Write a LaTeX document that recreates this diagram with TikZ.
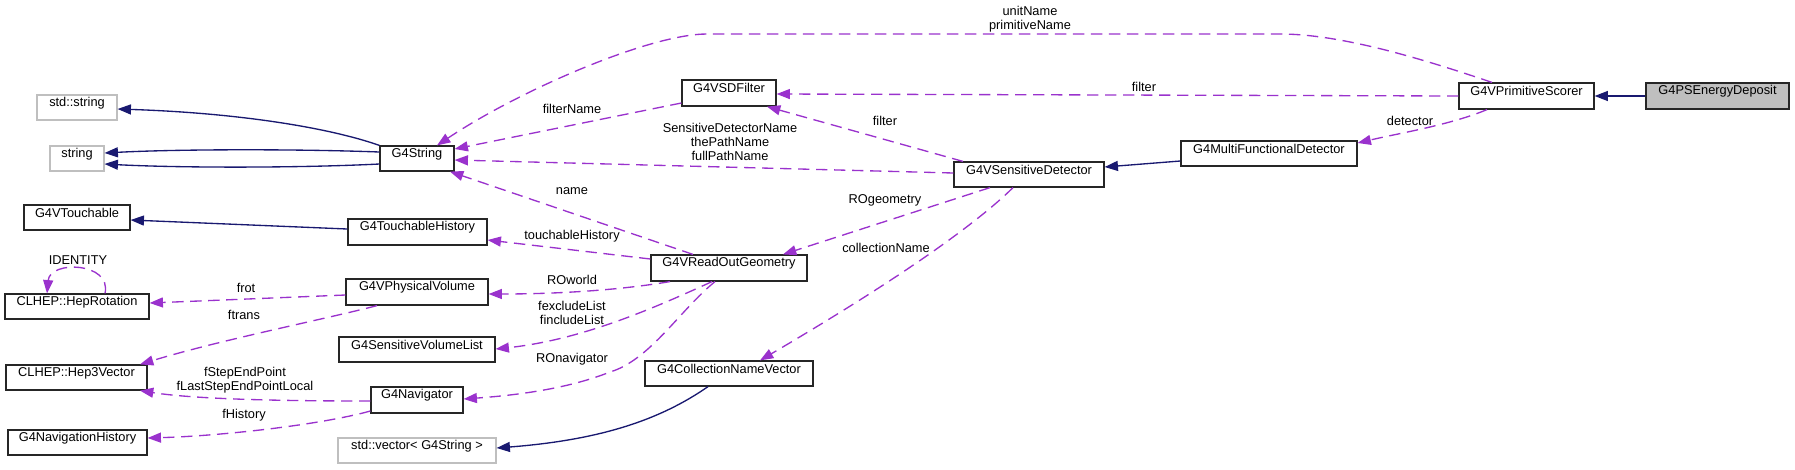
\documentclass[tikz,border=0pt]{standalone}
\usepackage{fontspec}
\setmainfont{Liberation Sans}
\usetikzlibrary{arrows.meta,fit}
\definecolor{navy}{HTML}{191970}
\definecolor{purp}{HTML}{9A32CD}
\definecolor{lgray}{HTML}{BFBFBF}
\begin{document}
\begin{tikzpicture}[x=0.75pt,y=-0.75pt,
  every node/.style={font=\fontsize{9.6}{10.5}\selectfont},
  box/.style={draw=black!85, line width=0.9pt, fill=white, inner sep=0pt},
  gbox/.style={box, draw=lgray},
  hbox/.style={box, fill=lgray},
  lab/.style={inner sep=0pt, align=center},
  inh/.style={draw=navy, line width=1pt, -{Triangle[length=10pt,width=7.5pt]}},
  usesrel/.style={draw=purp, line width=1pt, dash pattern=on 8.5pt off 5pt, -{Triangle[length=10pt,width=7.5pt]}}]
\useasboundingbox (0,0) rectangle (1795,469);

% nodes
\node[hbox, fit={(1646,83)(1789,109)}] (psed) {G4PSEnergyDeposit};
\node[box, fit={(1459,83)(1594,109)}] (vps) {G4VPrimitiveScorer};
\node[box, fit={(1181,141)(1357,166)}] (mfd) {G4MultiFunctionalDetector};
\node[box, fit={(954,162)(1104,187)}] (vsd) {G4VSensitiveDetector};
\node[box, fit={(682,80)(776,106)}] (sdf) {G4VSDFilter};
\node[box, fit={(380,146)(454,171)}] (g4s) {G4String};
\node[gbox, fit={(37,95)(117,120)}] (stds) {std::string};
\node[gbox, fit={(50,146)(104,171)}] (str) {string};
\node[box, fit={(24,205)(130,230)}] (vt) {G4VTouchable};
\node[box, fit={(348,219)(487,245)}] (th) {G4TouchableHistory};
\node[box, fit={(651,255)(807,281)}] (rog) {G4VReadOutGeometry};
\node[box, fit={(5,294)(149,319)}] (rot) {CLHEP::HepRotation};
\node[box, fit={(346,279)(488,305)}] (pv) {G4VPhysicalVolume};
\node[box, fit={(339,337)(495,362)}] (svl) {G4SensitiveVolumeList};
\node[box, fit={(6,365)(147,390)}] (h3v) {CLHEP::Hep3Vector};
\node[box, fit={(371,387)(463,413)}] (nav) {G4Navigator};
\node[box, fit={(8,430)(147,455)}] (nh) {G4NavigationHistory};
\node[gbox, fit={(338,438)(496,463)}] (vec) {std::vector< G4String >};
\node[box, fit={(645,361)(813,386)}] (cnv) {G4CollectionNameVector};

% inheritance / solid edges
\draw[inh] (psed.west) -- (vps.east);
\draw[inh] (mfd.west |- 0,161) -- (vsd.east |- 0,167);
\draw[inh] (g4s.north west) .. controls (330,128) and (240,113) .. (stds.east |- 0,109);
\draw[inh] (g4s.west |- 0,152) .. controls (300,149) and (180,149) .. (str.east |- 0,153);
\draw[inh] (g4s.west |- 0,164) .. controls (300,168) and (180,168) .. (str.east |- 0,164);
\draw[inh] (th.west |- 0,229) -- (vt.east |- 0,220);
\draw[inh] (cnv.south -| 708,0) .. controls (660,420) and (600,440) .. (vec.east |- 0,448);

% usage / dashed edges
\draw[usesrel] (vps.north -| 1492,0) .. controls (1420,58) and (1340,34) .. (1280,34) -- (707,34) .. controls (650,34) and (520,90) .. (g4s.north -| 437,0);
\node[lab] (lunit) at (1030,19) {unitName\\primitiveName};
\draw[usesrel] (vps.west |- 0,96) -- (sdf.east |- 0,94);
\node[lab] (lfilt1) at (1144,87) {filter};
\draw[usesrel] (vps.south -| 1487,0) .. controls (1450,125) and (1400,133) .. (mfd.east |- 0,143);
\node[lab] (ldet) at (1410,121) {detector};
\draw[usesrel] (vsd.north -| 963,0) -- (sdf.south -| 767,0);
\node[lab] (lfilt2) at (885,121) {filter};
\draw[usesrel] (vsd.west |- 0,173) -- (g4s.east |- 0,160);
\node[lab] (lsdn) at (730,142) {SensitiveDetectorName\\thePathName\\fullPathName};
\draw[usesrel] (sdf.west |- 0,103) -- (g4s.east |- 0,149);
\node[lab] (lfn) at (572,109) {filterName};
\draw[usesrel] (rog.north -| 693,0) -- (g4s.south -| 450,0);
\node[lab] (lname) at (572,191) {name};
\draw[usesrel] (vsd.south -| 990,0) -- (rog.north -| 783,0);
\node[lab] (lrog) at (885,200) {ROgeometry};
\draw[usesrel] (vsd.south -| 1013,0) .. controls (970,230) and (880,290) .. (cnv.north -| 760,0);
\node[lab] (lcn) at (886,248) {collectionName};
\draw[usesrel] (rog.west |- 0,259) -- (th.east |- 0,240);
\node[lab] (lth) at (572,236) {touchableHistory};
\draw[usesrel] (rog.south -| 670,0) .. controls (620,290) and (560,294) .. (pv.east |- 0,294);
\node[lab] (lrow) at (572,280) {ROworld};
\draw[usesrel] (rog.south -| 712,0) .. controls (650,310) and (580,340) .. (svl.east |- 0,349);
\node[lab] (lexc) at (572,313) {fexcludeList\\fincludeList};
\draw[usesrel] (rog.south -| 715,0) .. controls (680,310) and (650,360) .. (610,372) .. controls (570,388) and (520,395) .. (nav.east |- 0,399);
\node[lab] (lnav) at (572,359) {ROnavigator};
\draw[usesrel] (pv.west |- 0,295) -- (rot.east |- 0,303);
\node[lab] (lfrot) at (246,288) {frot};
\draw[usesrel] (pv.south -| 377,0) .. controls (330,318) and (220,340) .. (h3v.north -| 140,0);
\node[lab] (lftr) at (244,315) {ftrans};
\draw[usesrel] (nav.west |- 0,401) .. controls (300,401) and (200,400) .. (h3v.south -| 140,0);
\node[lab] (lstep) at (245,380) {fStepEndPoint\\fLastStepEndPointLocal};
\draw[usesrel] (nav.west |- 0,411) .. controls (320,425) and (220,436) .. (nh.east |- 0,438);
\node[lab] (lhist) at (244,415) {fHistory};
\draw[usesrel] (rot.north -| 105,0) .. controls (112,262) and (50,260) .. (rot.north -| 47,0);
\node[lab] (lid) at (78,260) {IDENTITY};
\end{tikzpicture}
\end{document}
